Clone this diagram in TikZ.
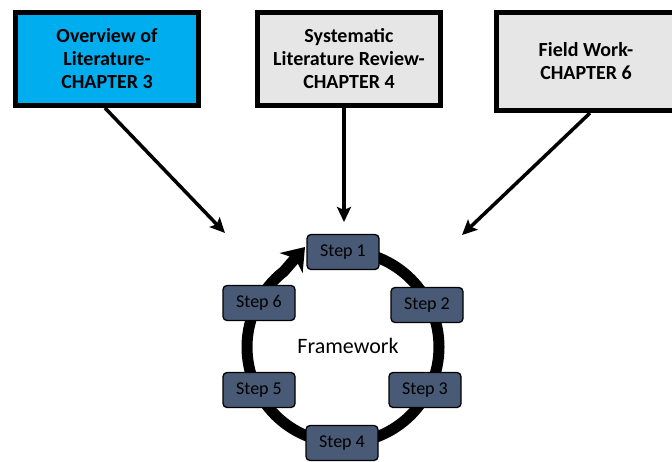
\documentclass[tikz,border=0pt]{standalone}
\usepackage{fontspec}
\setmainfont{Carlito}
\usepackage{tikz}
\usetikzlibrary{arrows.meta}

\definecolor{chapblue}{HTML}{00AEEF}
\definecolor{chapgray}{HTML}{E6E6E6}
\definecolor{stepslate}{HTML}{485A75}

\tikzset{
  chapter/.style={draw=black, line width=5pt, minimum width=183pt, minimum height=93pt,
    align=center, font=\fontsize{20}{23}\selectfont\bfseries, inner sep=0pt},
  stepnode/.style={draw=black, line width=1.3pt, fill=stepslate, rounded corners=4pt,
    minimum width=72pt, minimum height=35pt, inner sep=0pt,
    font=\fontsize{18}{21}\selectfont, text=black},
  feed/.style={line width=3.5pt, -{Stealth[length=15pt,width=14pt,inset=3pt]}}
}

\begin{document}
\begin{tikzpicture}[x=1pt, y=-1pt]
	\useasboundingbox (0,0) rectangle (672,461);
	% chapters
	\node[chapter, fill=chapblue] (ch3) at (107,59) {Overview of\\Literature-\\CHAPTER 3};
	\node[chapter, fill=chapgray] (ch4) at (349,59) {Systematic\\Literature Review-\\CHAPTER 4};
	\node[chapter, fill=chapgray, minimum width=180pt, minimum height=98pt] (ch6) at (586,61.5) {Field Work-\\CHAPTER 6};
	\coordinate (in3) at (225,233);
	\coordinate (in4) at (344,222);
	\coordinate (in6) at (462,235);
	\draw[feed] ([xshift=-2pt]ch3.south) -- (in3);
	\draw[feed] (ch4.south -| in4) -- (in4);
	\draw[feed] ([xshift=4pt]ch6.south) -- (in6);
	% cycle
	\coordinate (hub) at (343,347);
	\coordinate (ringtip) at (305,247);
	\draw[line width=11pt, -{Stealth[length=21pt,width=30pt,inset=6pt]}]
	  (hub) ++(-90:96) arc[start angle=-90, end angle=232, radius=96] -- (ringtip);
	\node[font=\fontsize{22}{26}\selectfont] (fw) at (348,346) {Framework};
	\node[stepnode] (s1) at (343,252) {Step 1};
	\node[stepnode] (s2) at (427,305) {Step 2};
	\node[stepnode] (s3) at (425,390) {Step 3};
	\node[stepnode] (s4) at (342,443) {Step 4};
	\node[stepnode] (s5) at (259,390) {Step 5};
	\node[stepnode] (s6) at (259,303) {Step 6};
\end{tikzpicture}
\end{document}
